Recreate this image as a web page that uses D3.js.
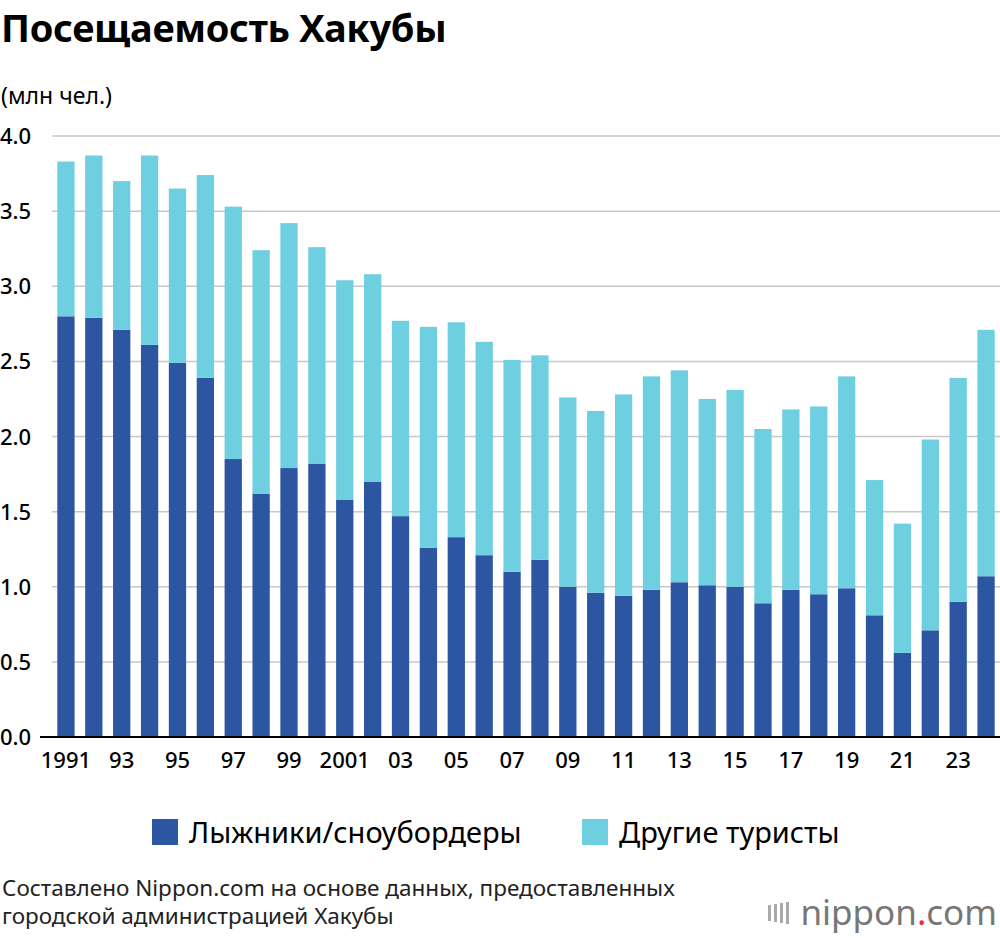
<!DOCTYPE html>
<html>
<head>
<meta charset="utf-8">
<script src="https://cdn.jsdelivr.net/npm/d3@7"></script>
<style>
body{margin:0;background:#fff;font-family:"Noto Sans","Open Sans",sans-serif;}
</style>
</head>
<body>
<script>
var years = d3.range(1991, 2025);
var skiers = [2.80,2.79,2.71,2.61,2.49,2.39,1.85,1.62,1.79,1.82,1.58,1.70,1.47,1.26,1.33,1.21,1.10,1.18,1.00,0.96,0.94,0.98,1.03,1.01,1.00,0.89,0.98,0.95,0.99,0.81,0.56,0.71,0.90,1.07];
var others = [1.03,1.08,0.99,1.26,1.16,1.35,1.68,1.62,1.63,1.44,1.46,1.38,1.30,1.47,1.43,1.42,1.41,1.36,1.26,1.21,1.34,1.42,1.41,1.24,1.31,1.16,1.20,1.25,1.41,0.90,0.86,1.27,1.49,1.64];
var yTicks = [0,0.5,1,1.5,2,2.5,3,3.5,4];
var seriesNames = ["Лыжники/сноубордеры","Другие туристы"];
var colors = ["#2c55a2","#6dcfe0"];

var svg = d3.select("body").append("svg").attr("width",1000).attr("height",938);
var x = d3.scaleBand().domain(years).range([52,1000]).paddingInner(0.38).paddingOuter(0.19);
var y = d3.scaleLinear().domain([0,4]).range([737,136]);

svg.append("text").attr("x",1).attr("y",42).attr("font-size",38).attr("font-weight","bold").attr("letter-spacing",-0.3).text("Посещаемость Хакубы");
svg.append("text").attr("x",1).attr("y",104).attr("font-size",23).text("(млн чел.)");

// grid
svg.selectAll(".grid").data(yTicks).enter().append("line")
  .attr("x1",52).attr("x2",1000).attr("y1",function(d){return y(d);}).attr("y2",function(d){return y(d);})
  .attr("stroke","#c8c8c8").attr("stroke-width",1.5);
svg.selectAll(".yl").data(yTicks).enter().append("text")
  .attr("x",0).attr("y",function(d){return y(d)+8;}).attr("font-size",22).attr("font-weight",500)
  .text(function(d){return d.toFixed(1);});

var stack = years.map(function(yr,i){return {year:yr,s:skiers[i],o:others[i]};});
svg.selectAll(".bs").data(stack).enter().append("rect")
  .attr("x",function(d){return x(d.year);}).attr("width",x.bandwidth())
  .attr("y",function(d){return y(d.s);}).attr("height",function(d){return y(0)-y(d.s);})
  .attr("fill",colors[0]);
svg.selectAll(".bo").data(stack).enter().append("rect")
  .attr("x",function(d){return x(d.year);}).attr("width",x.bandwidth())
  .attr("y",function(d){return y(d.s+d.o);}).attr("height",function(d){return y(d.s)-y(d.s+d.o);})
  .attr("fill",colors[1]);

svg.append("line").attr("x1",40).attr("x2",1000).attr("y1",y(0)).attr("y2",y(0)).attr("stroke","#000").attr("stroke-width",2);

// x labels
svg.selectAll(".xl").data(years.filter(function(d){return d%2===1;})).enter().append("text")
  .attr("x",function(d){return x(d)+x.bandwidth()/2;}).attr("y",768).attr("font-size",22).attr("font-weight",500)
  .attr("text-anchor","middle")
  .text(function(d){return (d===1991||d===2001)?String(d):String(d%100).padStart(2,"0");});

// legend
var lg = svg.append("g");
[[152,0],[582,1]].forEach(function(p){
  lg.append("rect").attr("x",p[0]).attr("y",819).attr("width",26).attr("height",26).attr("fill",colors[p[1]]);
  lg.append("text").attr("x",p[0]+37).attr("y",843).attr("font-size",29).text(seriesNames[p[1]]);
});

svg.append("text").attr("x",2).attr("y",896).attr("font-size",22.5).attr("fill","#222").text("Составлено Nippon.com на основе данных, предоставленных");
svg.append("text").attr("x",2).attr("y",924).attr("font-size",22.5).attr("fill","#222").text("городской администрацией Хакубы");

var logo = svg.append("text").attr("x",997).attr("y",925).attr("text-anchor","end").attr("font-size",35).attr("fill","#777");
logo.append("tspan").text("nippon");
logo.append("tspan").attr("fill","#e03030").text(".");
logo.append("tspan").text("com");
svg.selectAll(".lb").data([0,1,2,3]).enter().append("rect")
  .attr("x",function(d){return 768+d*6;}).attr("y",function(d){return 905-d;}).attr("width",3).attr("height",function(d){return 16+d*2;}).attr("fill","#aaa");
</script>
</body>
</html>
